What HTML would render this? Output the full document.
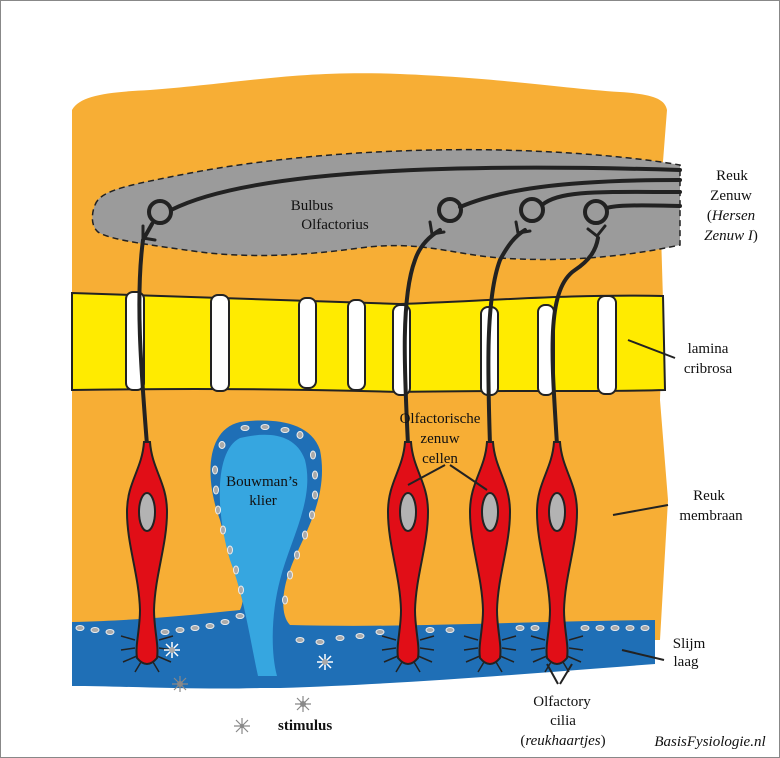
<!DOCTYPE html><html><head><style>body{margin:0;background:#fff}svg{display:block}text{font-family:"Liberation Serif",serif;font-size:15px;fill:#111}</style></head><body>
<svg width="780" height="758" viewBox="0 0 780 758">
<rect x="0.5" y="0.5" width="779" height="757" fill="#fff" stroke="#888"/>
<path d="M72,110 C80,95 110,92 150,90 C250,82 300,70 400,74 C500,78 560,88 620,92 C650,94 665,98 667,110 L660,200 L663,300 L660,400 L668,500 L660,640 L72,640 Z" fill="#f7ae35"/>
<path d="M95,205 C100,190 130,185 180,175 C280,155 400,148 500,150 C580,152 640,158 680,165 L680,245 C620,258 560,262 500,258 C450,254 420,240 360,248 C300,256 250,258 200,252 C150,245 110,240 98,232 C90,225 92,212 95,205 Z" fill="#9b9b9b" stroke="#222" stroke-width="1.5" stroke-dasharray="6,4"/>
<path d="M72,293 C200,298 300,300 400,304 C500,300 580,294 663,296 L665,390 C600,392 500,390 400,392 C300,389 200,388 72,390 Z" fill="#ffeb00" stroke="#222" stroke-width="2"/>
<g fill="#fff" stroke="#222" stroke-width="2">
<rect x="126" y="292" width="18" height="98" rx="7"/><rect x="211" y="295" width="18" height="96" rx="7"/><rect x="299" y="298" width="17" height="90" rx="7"/><rect x="348" y="300" width="17" height="90" rx="7"/><rect x="393" y="305" width="17" height="90" rx="7"/><rect x="481" y="307" width="17" height="88" rx="7"/><rect x="538" y="305" width="16" height="90" rx="7"/><rect x="598" y="296" width="18" height="98" rx="7"/>
</g>
<path d="M72,622 C150,620 200,614 240,610 C250,590 230,560 220,520 C205,480 205,430 240,422 C270,418 310,420 320,450 C330,500 300,540 290,570 C282,590 280,615 290,625 C400,628 500,622 655,620 L655,664 C500,676 400,684 280,688 L260,688 C200,690 120,686 72,686 Z" fill="#1f6fb6"/>
<path d="M258,676 C250,640 245,600 230,560 C215,510 215,450 240,438 C265,432 295,432 305,460 C315,500 290,540 280,580 C272,610 270,650 277,676 Z" fill="#36a6e0"/>
<g fill="#aaa" stroke="#eee" stroke-width="1">
<ellipse cx="80" cy="628" rx="4" ry="2.5"/><ellipse cx="95" cy="630" rx="4" ry="2.5"/><ellipse cx="110" cy="632" rx="4" ry="2.5"/><ellipse cx="165" cy="632" rx="4" ry="2.5"/><ellipse cx="180" cy="630" rx="4" ry="2.5"/><ellipse cx="195" cy="628" rx="4" ry="2.5"/><ellipse cx="210" cy="626" rx="4" ry="2.5"/><ellipse cx="225" cy="622" rx="4" ry="2.5"/><ellipse cx="240" cy="616" rx="4" ry="2.5"/>
<ellipse cx="300" cy="640" rx="4" ry="2.5"/><ellipse cx="320" cy="642" rx="4" ry="2.5"/><ellipse cx="340" cy="638" rx="4" ry="2.5"/><ellipse cx="360" cy="636" rx="4" ry="2.5"/><ellipse cx="380" cy="632" rx="4" ry="2.5"/><ellipse cx="430" cy="630" rx="4" ry="2.5"/><ellipse cx="450" cy="630" rx="4" ry="2.5"/><ellipse cx="520" cy="628" rx="4" ry="2.5"/><ellipse cx="535" cy="628" rx="4" ry="2.5"/><ellipse cx="585" cy="628" rx="4" ry="2.5"/><ellipse cx="600" cy="628" rx="4" ry="2.5"/><ellipse cx="615" cy="628" rx="4" ry="2.5"/><ellipse cx="630" cy="628" rx="4" ry="2.5"/><ellipse cx="645" cy="628" rx="4" ry="2.5"/>
<ellipse cx="215" cy="470" rx="2.5" ry="4"/><ellipse cx="216" cy="490" rx="2.5" ry="4"/><ellipse cx="218" cy="510" rx="2.5" ry="4"/><ellipse cx="223" cy="530" rx="2.5" ry="4"/><ellipse cx="230" cy="550" rx="2.5" ry="4"/><ellipse cx="236" cy="570" rx="2.5" ry="4"/><ellipse cx="241" cy="590" rx="2.5" ry="4"/><ellipse cx="222" cy="445" rx="3" ry="3.5"/><ellipse cx="245" cy="428" rx="4" ry="2.5"/><ellipse cx="265" cy="427" rx="4" ry="2.5"/><ellipse cx="285" cy="430" rx="4" ry="2.5"/><ellipse cx="300" cy="435" rx="3" ry="3.5"/><ellipse cx="313" cy="455" rx="2.5" ry="4"/><ellipse cx="315" cy="475" rx="2.5" ry="4"/><ellipse cx="315" cy="495" rx="2.5" ry="4"/><ellipse cx="312" cy="515" rx="2.5" ry="4"/><ellipse cx="305" cy="535" rx="2.5" ry="4"/><ellipse cx="297" cy="555" rx="2.5" ry="4"/><ellipse cx="290" cy="575" rx="2.5" ry="4"/><ellipse cx="285" cy="600" rx="2.5" ry="4"/>
</g>
<g fill="none" stroke="#222" stroke-width="4" stroke-linecap="round">
<path d="M147,445 C142,380 135,300 143,240 L152,224"/>
<path d="M408,445 C405,380 400,300 415,260 C420,245 430,236 440,230"/>
<path d="M490,445 C488,380 485,300 500,260 C508,245 515,236 525,230"/>
<path d="M557,445 C552,360 545,290 575,270 C590,260 596,250 598,238"/>
<path d="M171,210 C250,170 450,163 680,170"/>
<path d="M460,207 C500,190 560,180 680,180"/>
<path d="M542,205 C560,190 600,192 680,192"/>
<path d="M607,208 C615,205 640,205 680,206"/>
<circle cx="160" cy="212" r="11"/><circle cx="450" cy="210" r="11"/><circle cx="532" cy="210" r="11"/><circle cx="596" cy="212" r="11"/>
</g>
<g stroke="#222" stroke-width="3" stroke-linecap="round">
<path d="M143,238 L143,226 M143,238 L155,240"/><path d="M432,234 L430,222 M432,234 L444,232"/><path d="M518,233 L516,222 M518,233 L530,231"/><path d="M597,236 L588,229 M597,236 L605,226"/>
</g>
<defs><g id="n">
<g stroke="#222" stroke-width="1.5"><path d="M-12,640 L-26,636 M-12,648 L-26,650 M-10,656 L-24,662 M12,640 L26,636 M12,648 L26,650 M10,656 L24,662 M-6,662 L-12,672 M6,662 L12,672"/></g>
<path d="M-3,442 C-5,470 -20,482 -20,512 C-20,545 -8,575 -7,610 C-7,630 -12,645 -10,658 Q0,670 10,658 C12,645 7,630 7,610 C8,575 20,545 20,512 C20,482 5,470 3,442 Z" fill="#e10e17" stroke="#222" stroke-width="2"/>
<ellipse cx="0" cy="512" rx="8" ry="19" fill="#b3b3b3" stroke="#222" stroke-width="2"/>
</g></defs>
<use href="#n" x="147"/><use href="#n" x="408"/><use href="#n" x="490"/><use href="#n" x="557"/>
<g stroke="#fff" stroke-width="1.5"><path d="M172,642 v16 M164,650 h16 M166,644 l12,12 M178,644 l-12,12"/><path d="M325,654 v16 M317,662 h16 M319,656 l12,12 M331,656 l-12,12"/></g>
<g stroke="#888" stroke-width="1.2"><path d="M180,676 v16 M172,684 h16 M174,678 l12,12 M186,678 l-12,12"/><path d="M303,696 v16 M295,704 h16 M297,698 l12,12 M309,698 l-12,12"/><path d="M242,718 v16 M234,726 h16 M236,720 l12,12 M248,720 l-12,12"/></g>
<circle cx="172" cy="650" r="3" fill="#aaa"/><circle cx="325" cy="662" r="3" fill="#aaa"/><circle cx="180" cy="684" r="3" fill="#888"/><circle cx="303" cy="704" r="3" fill="#888"/><circle cx="242" cy="726" r="2" fill="#888"/>
<g stroke="#222" stroke-width="2"><path d="M628,340 L675,358"/><path d="M613,515 L668,505"/><path d="M622,650 L664,660"/><path d="M408,485 L445,465 M487,490 L450,465"/><path d="M547,664 L558,684 M572,664 L560,684"/></g>
<text x="312" y="210" text-anchor="middle">Bulbus</text><text x="335" y="229" text-anchor="middle">Olfactorius</text>
<text x="732" y="180" text-anchor="middle">Reuk</text><text x="731" y="200" text-anchor="middle">Zenuw</text><text x="731" y="220" text-anchor="middle">(<tspan font-style="italic">Hersen</tspan></text><text x="731" y="240" text-anchor="middle"><tspan font-style="italic">Zenuw I</tspan>)</text>
<text x="708" y="353" text-anchor="middle">lamina</text><text x="708" y="373" text-anchor="middle">cribrosa</text>
<text x="440" y="423" text-anchor="middle">Olfactorische</text><text x="440" y="443" text-anchor="middle">zenuw</text><text x="440" y="463" text-anchor="middle">cellen</text>
<text x="262" y="486" text-anchor="middle">Bouwman’s</text><text x="263" y="505" text-anchor="middle">klier</text>
<text x="709" y="500" text-anchor="middle">Reuk</text><text x="711" y="520" text-anchor="middle">membraan</text>
<text x="689" y="648" text-anchor="middle">Slijm</text><text x="686" y="666" text-anchor="middle">laag</text>
<text x="562" y="706" text-anchor="middle">Olfactory</text><text x="563" y="725" text-anchor="middle">cilia</text><text x="563" y="745" text-anchor="middle">(<tspan font-style="italic">reukhaartjes</tspan>)</text>
<text x="278" y="730" font-weight="bold" font-size="16">stimulus</text>
<text x="710" y="746" text-anchor="middle" font-style="italic" font-size="12">BasisFysiologie.nl</text>
</svg></body></html>
